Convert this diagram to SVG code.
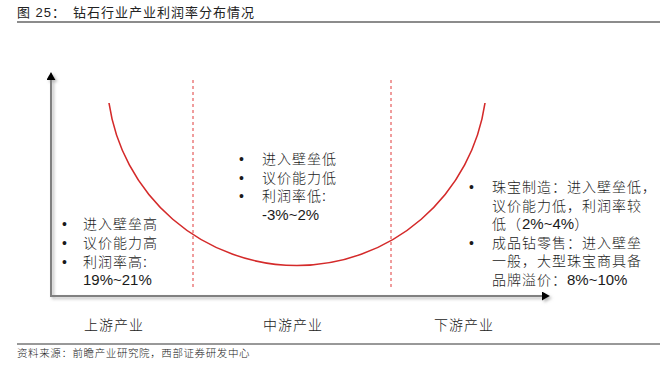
<svg xmlns="http://www.w3.org/2000/svg" width="660" height="368" viewBox="0 0 660 368">
<style>
text{font-family:"Liberation Sans","Noto Sans CJK SC",sans-serif;fill:#1a1a1a}
.t{font-size:14px;letter-spacing:1px;font-weight:300;fill:#222}
.n{font-size:15px;letter-spacing:0;font-weight:400;fill:#1a1a1a}
.b{font-size:14px}
.cap{font-size:13px;letter-spacing:1px;fill:#222}
.src{font-size:10.5px;letter-spacing:0.6px;font-weight:300;fill:#222}
.axis{stroke:#808080;stroke-width:2;fill:none}
.dash{stroke:#e03a3a;stroke-width:1;stroke-dasharray:3,3;fill:none}
.curve{stroke:#d42a2a;stroke-width:1.6;fill:none}
</style>
<defs>
<marker id="arr" viewBox="0 0 8 9" markerWidth="8" markerHeight="9" refX="0" refY="4.5" orient="auto" markerUnits="userSpaceOnUse">
<path d="M0,0 L8,4.5 L0,9 z" fill="#000"/>
</marker>
<filter id="sh" x="-20%" y="-20%" width="140%" height="140%">
<feDropShadow dx="2" dy="2" stdDeviation="1.5" flood-color="#888" flood-opacity="0.6"/>
</filter>
</defs>
<rect width="660" height="368" fill="#fff"/>
<g id="title">
<text class="cap" x="17" y="17">图 25：<tspan x="73">钻石行业产业利润率分布情况</tspan></text>
<line x1="17" y1="22" x2="660" y2="22" stroke="#666" stroke-width="1.5"/>
</g>
<g id="connectors">
<g filter="url(#sh)">
<line class="axis" x1="51" y1="296" x2="51" y2="80" marker-end="url(#arr)"/>
<line class="axis" x1="50" y1="296" x2="542" y2="296" marker-end="url(#arr)"/>
</g>
<line class="dash" x1="193" y1="80" x2="193" y2="290"/>
<line class="dash" x1="391" y1="80" x2="391" y2="290"/>
<path class="curve" d="M109,103 A190,190 0 0 0 485,103"/>
</g>
<g id="upstream">
<text class="b" x="62" y="229">•</text>
<text class="b" x="62" y="248">•</text>
<text class="b" x="62" y="266.5">•</text>
<text class="t" x="83" y="229">进入壁垒高</text>
<text class="t" x="83" y="248">议价能力高</text>
<text class="t" x="83" y="266.5">利润率高:</text>
<text class="n" x="83" y="285">19%~21%</text>
</g>
<g id="midstream">
<text class="b" x="239" y="164">•</text>
<text class="b" x="239" y="182.5">•</text>
<text class="b" x="239" y="201">•</text>
<text class="t" x="262" y="164">进入壁垒低</text>
<text class="t" x="262" y="182.5">议价能力低</text>
<text class="t" x="262" y="201">利润率低:</text>
<text class="n" x="262" y="219.5">-3%~2%</text>
</g>
<g id="downstream">
<text class="b" x="469" y="192">•</text>
<text class="b" x="469" y="247.5">•</text>
<text class="t" x="492" y="192">珠宝制造：进入壁垒低，</text>
<text class="t" x="492" y="210.5">议价能力低，利润率较</text>
<text class="t" x="492" y="229">低（<tspan class="n">2%~4%</tspan>）</text>
<text class="t" x="492" y="247.5">成品钻零售：进入壁垒</text>
<text class="t" x="492" y="266">一般，大型珠宝商具备</text>
<text class="t" x="492" y="284.5">品牌溢价：<tspan class="n">8%~10%</tspan></text>
</g>
<g id="labels">
<text class="t" x="84" y="330">上游产业</text>
<text class="t" x="263" y="330">中游产业</text>
<text class="t" x="434" y="330">下游产业</text>
</g>
<g id="source">
<line x1="17" y1="344" x2="660" y2="344" stroke="#333" stroke-width="1"/>
<text class="src" x="17" y="357">资料来源：前瞻产业研究院，西部证券研发中心</text>
</g>
</svg>
